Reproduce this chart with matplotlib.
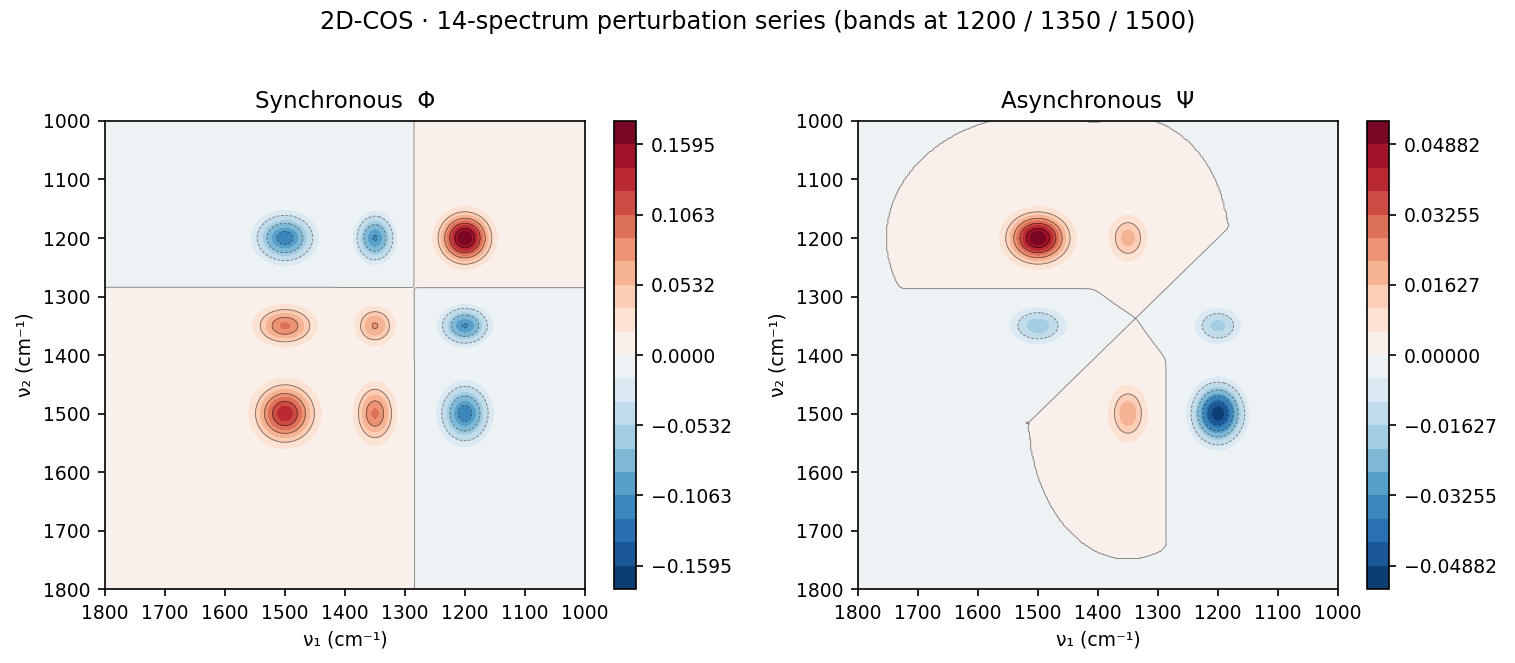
import numpy as np
import matplotlib.pyplot as plt

# --- bandas y serie de perturbación (14 espectros) ---
band_centers = [1200, 1350, 1500]
band_widths = [25, 20, 30]
intensity_1200 = [0.346, 0.447, 0.547, 0.648, 0.748, 0.849, 0.950, 1.050, 1.151, 1.252, 1.352, 1.453, 1.553, 1.654]
intensity_1350 = [1.145, 1.016, 0.899, 0.793, 0.698, 0.614, 0.541, 0.480, 0.430, 0.391, 0.363, 0.346, 0.340, 0.346]
intensity_1500 = [1.849, 1.591, 1.364, 1.170, 1.008, 0.877, 0.778, 0.711, 0.677, 0.674, 0.702, 0.763, 0.856, 0.981]

sync_vmax = 0.17722
async_vmax = 0.054246
noise_floor = 3e-17   # por debajo de esto el asíncrono se toma como 0

nu = np.arange(1000, 1801, 2.0)
intensities = np.array([intensity_1200, intensity_1350, intensity_1500])
m = intensities.shape[1]

# espectros: suma de gaussianas
bands = np.array([np.exp(-(nu - c) ** 2 / (2 * w ** 2)) for c, w in zip(band_centers, band_widths)])
spectra = intensities.T @ bands
dyn = spectra - spectra.mean(axis=0)

# matriz de Hilbert-Noda
j, k = np.meshgrid(np.arange(m), np.arange(m), indexing='ij')
with np.errstate(divide='ignore'):
    N = np.where(j == k, 0.0, 1.0 / (np.pi * (k - j)))

sync = dyn.T @ dyn / (m - 1)
asyn = dyn.T @ N @ dyn / (m - 1)
asyn[np.abs(asyn) < noise_floor] = 0.0

fig = plt.figure(figsize=(10.1, 4.42), dpi=150)
fig.suptitle('2D-COS · 14-spectrum perturbation series (bands at 1200 / 1350 / 1500)', fontsize=11.5, y=0.985)

panels = [
    (sync, sync_vmax, 'Synchronous  Φ', [0.0693, 0.1116, 0.3168, 0.7059], [0.4053, 0.1116, 0.0148, 0.7059]),
    (asyn, async_vmax, 'Asynchronous  Ψ', [0.5663, 0.1116, 0.3168, 0.7059], [0.9023, 0.1116, 0.0148, 0.7059]),
]

for Z, vmax, title, pos, cpos in panels:
    ax = fig.add_axes(pos)
    cax = fig.add_axes(cpos)
    levels = np.linspace(-vmax, vmax, 21)
    Zc = np.clip(Z, -vmax * 0.9999, vmax * 0.9999)
    cf = ax.contourf(nu, nu, Zc, levels=levels, cmap='RdBu_r')
    ax.contour(nu, nu, Zc, levels=levels[::2], colors='k', linewidths=0.4, alpha=0.5)
    ax.set_xlim(1800, 1000)
    ax.set_ylim(1800, 1000)
    ax.set_title(title, fontsize=11)
    ax.set_xlabel('ν₁ (cm⁻¹)', fontsize=9)
    ax.set_ylabel('ν₂ (cm⁻¹)', fontsize=9)
    ax.tick_params(labelsize=9)
    cb = fig.colorbar(cf, cax=cax, ticks=levels[1::3])
    cb.ax.tick_params(labelsize=9)

plt.savefig('out.png', dpi=150)
